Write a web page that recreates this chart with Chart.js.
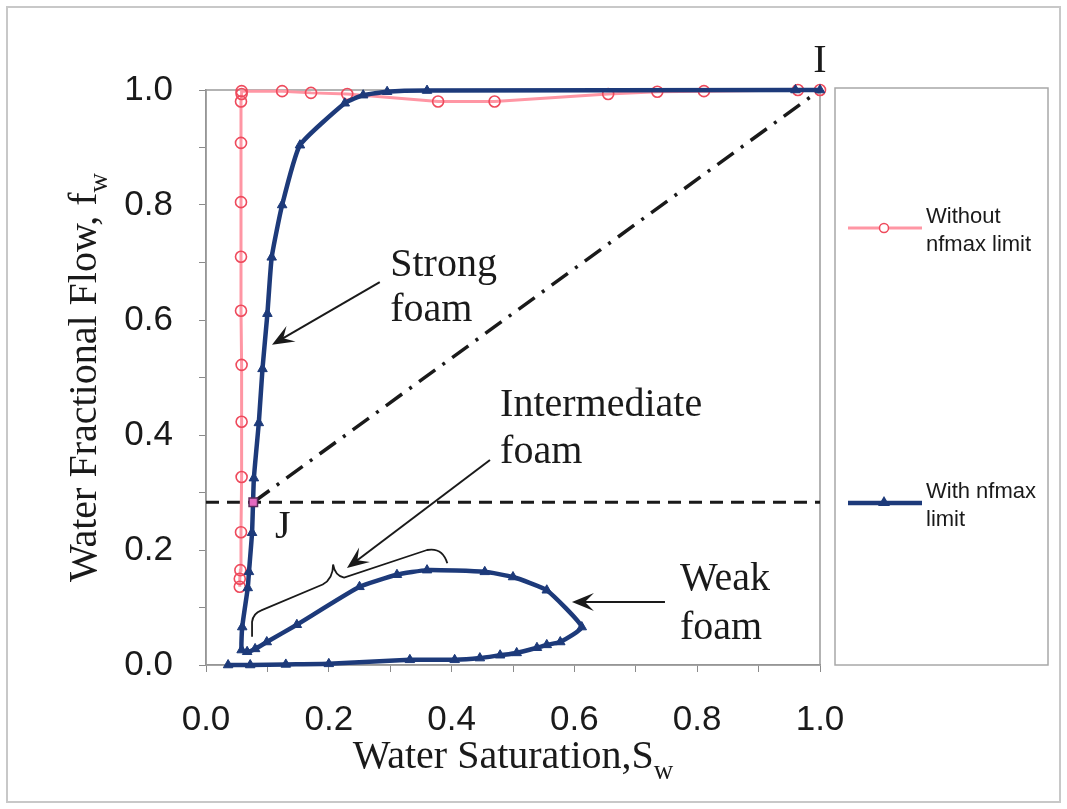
<!DOCTYPE html>
<html>
<head>
<meta charset="utf-8">
<script src="https://cdn.jsdelivr.net/npm/chart.js@4.4.1/dist/chart.umd.min.js"></script>
<style>
  html, body { margin: 0; padding: 0; background: #fff; }
</style>
</head>
<body>
<canvas id="myChart" width="1067" height="809"></canvas>
<script>
'use strict';

// Without nfmax limit (pink, open circles)
var withoutSw = [0.055, 0.055, 0.056, 0.057, 0.058, 0.058, 0.058, 0.057, 0.057, 0.057, 0.057, 0.057,
  0.058, 0.058, 0.124, 0.171, 0.23, 0.378, 0.47, 0.655, 0.735, 0.811, 0.964, 1.0];
var withoutFw = [0.136, 0.15, 0.165, 0.231, 0.327, 0.423, 0.522, 0.616, 0.71, 0.805, 0.908, 0.98,
  0.993, 0.998, 0.998, 0.995, 0.993, 0.98, 0.98, 0.993, 0.997, 0.998, 1.0, 1.0];

// With nfmax limit (navy, triangles) - bottom branch, weak/intermediate loop, strong branch
var withSw = [0.036, 0.072, 0.13, 0.2, 0.332, 0.405, 0.446, 0.479, 0.506, 0.539, 0.555, 0.577, 0.612,
  0.555, 0.5, 0.454, 0.36, 0.311, 0.25, 0.148, 0.099, 0.08, 0.067,
  0.058, 0.059, 0.068, 0.07, 0.075, 0.078, 0.086, 0.092, 0.1, 0.107, 0.124, 0.153,
  0.226, 0.256, 0.295, 0.36, 0.96, 1.0];
var withFw = [0.0, 0.0, 0.001, 0.002, 0.009, 0.009, 0.012, 0.017, 0.021, 0.03, 0.035, 0.04, 0.066,
  0.13, 0.153, 0.162, 0.165, 0.157, 0.136, 0.07, 0.04, 0.028, 0.023,
  0.026, 0.066, 0.134, 0.162, 0.23, 0.325, 0.421, 0.515, 0.611, 0.709, 0.8, 0.904,
  0.977, 0.991, 0.997, 0.999, 1.0, 1.0];

var pointJ = [0.077, 0.283];
var pointI = [1.0, 1.0];
var jLevel = 0.283;

var seriesNames = [['Without', 'nfmax limit'], ['With nfmax', 'limit']];
var xTitle = ['Water Saturation,S', 'w'];
var yTitle = ['Water Fractional Flow, f', 'w'];

var pinkLine = '#ff96a4';
var pinkMark = '#ee4a5c';
var navy = '#1d3a7a';

function toPoints(xs, ys) {
  var pts = [];
  for (var i = 0; i < xs.length; i++) {
    pts.push({ x: xs[i], y: ys[i] });
  }
  return pts;
}

var serif = '"Liberation Serif", "Times New Roman", serif';
var sans = '"Liberation Sans", Arial, sans-serif';

function drawSub(ctx, parts, x, y, size, align) {
  ctx.font = size + 'px ' + serif;
  var w1 = ctx.measureText(parts[0]).width;
  ctx.font = Math.round(size * 0.68) + 'px ' + serif;
  var w2 = ctx.measureText(parts[1]).width;
  var left = align === 'center' ? x - (w1 + w2) / 2 : x;
  ctx.textAlign = 'left';
  ctx.textBaseline = 'alphabetic';
  ctx.font = size + 'px ' + serif;
  ctx.fillText(parts[0], left, y);
  ctx.font = Math.round(size * 0.68) + 'px ' + serif;
  ctx.fillText(parts[1], left + w1, y + size * 0.28);
}

function arrow(ctx, x1, y1, x2, y2) {
  var ang = Math.atan2(y2 - y1, x2 - x1);
  var len = 22, wid = 9;
  ctx.beginPath();
  ctx.moveTo(x1, y1);
  ctx.lineTo(x2 - Math.cos(ang) * 10, y2 - Math.sin(ang) * 10);
  ctx.stroke();
  ctx.beginPath();
  ctx.moveTo(x2, y2);
  ctx.lineTo(x2 - len * Math.cos(ang) + wid * Math.sin(ang), y2 - len * Math.sin(ang) - wid * Math.cos(ang));
  ctx.lineTo(x2 - 13 * Math.cos(ang), y2 - 13 * Math.sin(ang));
  ctx.lineTo(x2 - len * Math.cos(ang) - wid * Math.sin(ang), y2 - len * Math.sin(ang) + wid * Math.cos(ang));
  ctx.closePath();
  ctx.fill();
}

var decorPlugin = {
  id: 'decor',
  beforeDraw: function (chart) {
    var ctx = chart.ctx;
    ctx.save();
    ctx.fillStyle = '#fff';
    ctx.fillRect(0, 0, chart.width, chart.height);
    ctx.strokeStyle = '#c8c8c8';
    ctx.lineWidth = 2;
    ctx.strokeRect(7, 7, chart.width - 14, chart.height - 14);
    ctx.restore();
  },
  beforeDatasetsDraw: function (chart) {
    var ctx = chart.ctx;
    var a = chart.chartArea;
    ctx.save();
    ctx.strokeStyle = '#9a9a9a';
    ctx.lineWidth = 1.5;
    ctx.strokeRect(a.left, a.top, a.right - a.left, a.bottom - a.top);
    ctx.restore();
  },
  afterDatasetsDraw: function (chart) {
    var ctx = chart.ctx;
    var xs = chart.scales.x, ys = chart.scales.y;
    var a = chart.chartArea;
    function px(v) { return xs.getPixelForValue(v); }
    function py(v) { return ys.getPixelForValue(v); }

    ctx.save();
    ctx.fillStyle = '#1a1a1a';
    ctx.strokeStyle = '#1a1a1a';

    // annotation text
    ctx.font = '40px ' + serif;
    ctx.textAlign = 'left';
    ctx.textBaseline = 'middle';
    ctx.fillText('Strong', px(0.30), py(0.694));
    ctx.fillText('foam', px(0.30), py(0.617));
    ctx.fillText('Intermediate', px(0.479), py(0.452));
    ctx.fillText('foam', px(0.479), py(0.37));
    ctx.fillText('Weak', px(0.772), py(0.148));
    ctx.fillText('foam', px(0.772), py(0.064));
    ctx.textAlign = 'center';
    ctx.fillText('I', px(pointI[0]), py(1.049));
    ctx.fillText('J', px(0.125), py(0.24));

    // arrows
    ctx.lineWidth = 2;
    arrow(ctx, px(0.283), py(0.666), px(0.1075), py(0.557));
    arrow(ctx, px(0.4625), py(0.3565), px(0.2296), py(0.1687));
    arrow(ctx, px(0.7475), py(0.1096), px(0.596), py(0.1096));

    // brace over the intermediate foam branch
    ctx.lineWidth = 1.8;
    ctx.beginPath();
    ctx.moveTo(px(0.075), py(0.049));
    ctx.lineTo(px(0.075), py(0.075));
    ctx.quadraticCurveTo(px(0.077), py(0.09), px(0.09), py(0.095));
    ctx.lineTo(px(0.19), py(0.14));
    ctx.quadraticCurveTo(px(0.207), py(0.15), px(0.207), py(0.175));
    ctx.quadraticCurveTo(px(0.21), py(0.155), px(0.225), py(0.152));
    ctx.lineTo(px(0.36), py(0.2));
    ctx.quadraticCurveTo(px(0.385), py(0.205), px(0.393), py(0.177));
    ctx.stroke();

    // axis titles
    ctx.fillStyle = '#1a1a1a';
    drawSub(ctx, xTitle, (a.left + a.right) / 2, 768, 40, 'center');
    ctx.translate(96, (a.top + a.bottom) / 2);
    ctx.rotate(-Math.PI / 2);
    drawSub(ctx, yTitle, 0, 0, 40, 'center');
    ctx.restore();

    // legend box
    ctx.save();
    ctx.strokeStyle = '#a8a8a8';
    ctx.lineWidth = 1.5;
    ctx.strokeRect(835, a.top - 2, 213, a.bottom - a.top + 2);
    var rows = [
      { y: 228, color: pinkLine, mark: 'circle' },
      { y: 503, color: navy, mark: 'triangle' }
    ];
    for (var i = 0; i < rows.length; i++) {
      var r = rows[i];
      ctx.strokeStyle = r.color;
      ctx.lineWidth = i === 0 ? 3 : 4.5;
      ctx.beginPath();
      ctx.moveTo(848, r.y);
      ctx.lineTo(922, r.y);
      ctx.stroke();
      if (r.mark === 'circle') {
        ctx.strokeStyle = pinkMark;
        ctx.lineWidth = 1.5;
        ctx.fillStyle = '#fff';
        ctx.beginPath();
        ctx.arc(884, r.y, 4.5, 0, Math.PI * 2);
        ctx.fill();
        ctx.stroke();
      } else {
        ctx.fillStyle = navy;
        ctx.beginPath();
        ctx.moveTo(884, r.y - 7);
        ctx.lineTo(890, r.y + 3);
        ctx.lineTo(878, r.y + 3);
        ctx.closePath();
        ctx.fill();
      }
      ctx.fillStyle = '#1a1a1a';
      ctx.font = '22px ' + sans;
      ctx.textAlign = 'left';
      ctx.textBaseline = 'middle';
      ctx.fillText(seriesNames[i][0], 926, r.y - 11);
      ctx.fillText(seriesNames[i][1], 926, r.y + 17);
    }
    ctx.restore();
  }
};

function tickLabel(value) {
  var n = Math.round(value * 10);
  return n % 2 === 0 ? (n / 10).toFixed(1) : '';
}

var ctx = document.getElementById('myChart').getContext('2d');

var myChart = new Chart(ctx, {
  type: 'scatter',
  data: {
    datasets: [
      {
        label: 'J',
        data: [{ x: pointJ[0], y: pointJ[1] }],
        pointStyle: 'rect',
        pointRadius: 6,
        backgroundColor: '#e46ac0',
        borderColor: '#5a2a5a',
        borderWidth: 1.5,
        order: 0,
        clip: false
      },
      {
        label: 'With nfmax limit',
        data: toPoints(withSw, withFw),
        showLine: true,
        tension: 0.15,
        borderColor: navy,
        borderWidth: 4.5,
        pointStyle: 'triangle',
        pointRadius: 5.5,
        backgroundColor: navy,
        pointBorderColor: navy,
        pointBorderWidth: 1,
        order: 1,
        clip: false
      },
      {
        label: 'Without nfmax limit',
        data: toPoints(withoutSw, withoutFw),
        showLine: true,
        borderColor: pinkLine,
        borderWidth: 3,
        pointStyle: 'circle',
        pointRadius: 5.5,
        pointBackgroundColor: 'rgba(255,255,255,0)',
        pointBorderColor: pinkMark,
        pointBorderWidth: 1.6,
        order: 2,
        clip: false
      },
      {
        label: 'J to I',
        data: [{ x: pointJ[0], y: pointJ[1] }, { x: pointI[0], y: pointI[1] }],
        showLine: true,
        borderColor: '#1a1a1a',
        borderWidth: 3.5,
        borderDash: [20, 9, 3, 9],
        pointRadius: 0,
        order: 3
      },
      {
        label: 'level',
        data: [{ x: 0, y: jLevel }, { x: 1, y: jLevel }],
        showLine: true,
        borderColor: '#1a1a1a',
        borderWidth: 3,
        borderDash: [13, 8],
        pointRadius: 0,
        order: 4
      }
    ]
  },
  options: {
    responsive: false,
    animation: false,
    layout: { padding: { top: 90, right: 247, bottom: 0, left: 0 } },
    plugins: {
      legend: { display: false },
      tooltip: { enabled: false }
    },
    scales: {
      x: {
        type: 'linear',
        min: 0,
        max: 1,
        afterFit: function (scale) { scale.height = 144; },
        ticks: {
          stepSize: 0.1,
          autoSkip: false,
          maxRotation: 0,
          padding: 27,
          color: '#1a1a1a',
          font: { family: sans, size: 35 },
          callback: tickLabel
        },
        grid: { display: true, drawOnChartArea: false, drawTicks: true, tickLength: 7, color: '#8a8a8a' },
        border: { display: true, color: '#8a8a8a', width: 1.5 }
      },
      y: {
        type: 'linear',
        min: 0,
        max: 1,
        afterFit: function (scale) { scale.width = 206; },
        ticks: {
          stepSize: 0.1,
          autoSkip: false,
          padding: 26,
          color: '#1a1a1a',
          font: { family: sans, size: 35 },
          callback: tickLabel
        },
        grid: { display: true, drawOnChartArea: false, drawTicks: true, tickLength: 7, color: '#8a8a8a' },
        border: { display: true, color: '#8a8a8a', width: 1.5 }
      }
    }
  },
  plugins: [decorPlugin]
});
</script>
</body>
</html>
